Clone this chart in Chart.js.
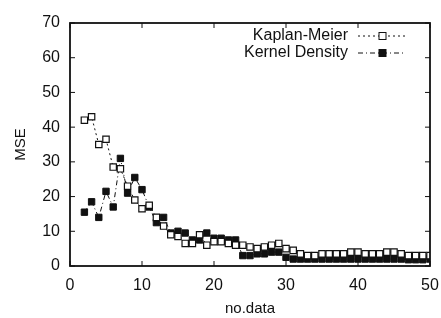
<!DOCTYPE html>
<html>
<head>
<meta charset="utf-8">
<script src="https://cdn.jsdelivr.net/npm/chart.js@4.4.1/dist/chart.umd.min.js"></script>
<style>
  html, body { margin: 0; padding: 0; background: #fff; }
  #wrap { width: 441px; height: 318px; position: relative; }
</style>
</head>
<body>
<div id="wrap"><canvas id="chartMse"></canvas></div>
<script>
const NO_DATA = [2,3,4,5,6,7,8,9,10,11,12,13,14,15,16,17,18,19,20,21,22,23,24,25,26,
  27,28,29,30,31,32,33,34,35,36,37,38,39,40,41,42,43,44,45,46,47,48,49,50];
const KAPLAN_MEIER = [42,43,35,36.5,28.5,28,23,19,16.5,17.5,14,11.5,9,8.5,6.5,6.5,9,6,7,7,
  6.5,6,6,5.5,5,5.5,6,6.5,5,4.5,3.5,3,3,3.5,3.5,3.5,3.5,4,4,3.5,3.5,3.5,4,4,3.5,3,3,3,3];
const KERNEL_DENSITY = [15.5,18.5,14,21.5,17,31,21,25.5,22,17,12.5,14,9.5,10,9.5,7.5,7.5,9.5,8,8,
  7.5,7.5,3,3,3.5,3.5,4,4,2.5,2,2,2,2,2,2,2,2,2,2,2,2,2,2,2,2,1.8,1.8,1.8,2];
const X_TICKS = [0,10,20,30,40,50];
const Y_TICKS = [0,10,20,30,40,50,60,70];

const INK = '#111';
const FONT = '"Liberation Sans", Arial, sans-serif';

function toPoints(xs, ys) {
  return xs.map((x, i) => ({ x, y: ys[i] }));
}

// gnuplot style: inward ticks on all four sides, legend top right
const framePlugin = {
  id: 'frame',
  afterDraw(chart) {
    const { ctx, chartArea: a, scales } = chart;
    ctx.save();
    ctx.strokeStyle = INK;
    ctx.lineWidth = 1.8;
    ctx.setLineDash([]);
    ctx.strokeRect(a.left, a.top, a.right - a.left, a.bottom - a.top);
    ctx.lineWidth = 1;
    const len = 5;
    X_TICKS.forEach(v => {
      const px = scales.x.getPixelForValue(v);
      ctx.beginPath();
      ctx.moveTo(px, a.bottom); ctx.lineTo(px, a.bottom - len);
      ctx.moveTo(px, a.top); ctx.lineTo(px, a.top + len);
      ctx.stroke();
    });
    Y_TICKS.forEach(v => {
      const py = scales.y.getPixelForValue(v);
      ctx.beginPath();
      ctx.moveTo(a.left, py); ctx.lineTo(a.left + len, py);
      ctx.moveTo(a.right, py); ctx.lineTo(a.right - len, py);
      ctx.stroke();
    });

    // legend
    ctx.font = '16px ' + FONT;
    ctx.fillStyle = INK;
    ctx.textAlign = 'right';
    ctx.textBaseline = 'middle';
    chart.data.datasets.forEach((ds, i) => {
      const y = a.top + 13 + i * 17;
      ctx.fillText(ds.label, 348, y);
      ctx.strokeStyle = ds.borderColor;
      ctx.lineWidth = ds.borderWidth;
      ctx.setLineDash(ds.borderDash);
      ctx.beginPath();
      ctx.moveTo(358, y); ctx.lineTo(405, y);
      ctx.stroke();
      ctx.setLineDash([]);
      ctx.fillStyle = ds.pointBackgroundColor;
      ctx.strokeStyle = INK;
      ctx.lineWidth = 1;
      ctx.fillRect(379, y - 3.5, 7, 7);
      ctx.strokeRect(379, y - 3.5, 7, 7);
      ctx.fillStyle = INK;
    });
    ctx.restore();
  }
};

function buildChart() {
  const ctx = document.getElementById('chartMse').getContext('2d');
  return new Chart(ctx, {
    type: 'line',
    data: {
      datasets: [
        {
          label: 'Kaplan-Meier',
          data: toPoints(NO_DATA, KAPLAN_MEIER),
          borderColor: INK,
          borderWidth: 1,
          borderDash: [2, 3],
          pointStyle: 'rect',
          pointRadius: 4.5,
          pointBackgroundColor: '#fff',
          pointBorderColor: INK,
          pointBorderWidth: 1.2
        },
        {
          label: 'Kernel Density',
          data: toPoints(NO_DATA, KERNEL_DENSITY),
          borderColor: INK,
          borderWidth: 1,
          borderDash: [5, 3, 1, 3],
          pointStyle: 'rect',
          pointRadius: 4.5,
          pointBackgroundColor: INK,
          pointBorderColor: INK,
          pointBorderWidth: 1
        }
      ]
    },
    options: {
      responsive: true,
      maintainAspectRatio: false,
      animation: false,
      layout: { padding: { left: 0, right: 11, top: 23, bottom: 0 } },
      plugins: { legend: { display: false }, tooltip: { enabled: false } },
      scales: {
        x: {
          type: 'linear', min: 0, max: 50,
          afterFit: s => { s.height = 52; },
          afterBuildTicks: s => { s.ticks = X_TICKS.map(v => ({ value: v })); },
          grid: { display: false },
          border: { display: false },
          ticks: { color: INK, font: { family: FONT, size: 16 }, padding: 2, maxRotation: 0 },
          title: { display: true, text: 'no.data', color: INK, font: { family: FONT, size: 15 }, padding: { top: 6, bottom: 0 } }
        },
        y: {
          min: 0, max: 70,
          afterFit: s => { s.width = 70; },
          afterBuildTicks: s => { s.ticks = Y_TICKS.map(v => ({ value: v })); },
          grid: { display: false },
          border: { display: false },
          ticks: { color: INK, font: { family: FONT, size: 16 }, padding: 2 },
          title: { display: true, text: 'MSE', color: INK, font: { family: FONT, size: 15 }, padding: { top: 12, bottom: 0 } }
        }
      }
    },
    plugins: [framePlugin]
  });
}

document.addEventListener('DOMContentLoaded', buildChart);
</script>
</body>
</html>
